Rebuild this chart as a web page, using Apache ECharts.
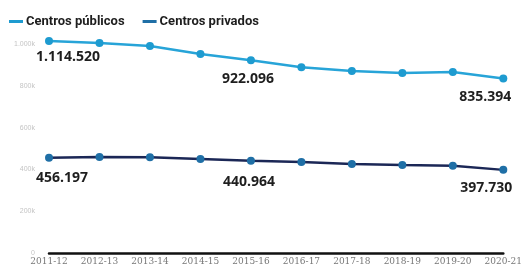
<!DOCTYPE html>
<html>
<head>
<meta charset="utf-8">
<script src="https://cdn.jsdelivr.net/npm/echarts@6/dist/echarts.min.js"></script>
<style>
  html, body { margin: 0; padding: 0; background: #fff; }
  #chart { width: 525px; height: 268px; }
</style>
</head>
<body>
<div id="chart"></div>
<script>
// school years
const years = ['2011-12', '2012-13', '2013-14', '2014-15', '2015-16', '2016-17', '2017-18', '2018-19', '2019-20', '2020-21'];

// values in thousands
const publicValues = [1014, 1005, 990, 952, 922.096, 889, 871, 861, 866, 835.394];
const privateValues = [456.197, 459, 458, 450, 440.964, 435, 426, 421, 417, 397.73];

// printed value labels (only some points carry one)
const publicLabels = ['1.114.520', '', '', '', '922.096', '', '', '', '', '835.394'];
const privateLabels = ['456.197', '', '', '', '440.964', '', '', '', '', '397.730'];

const yTickLabels = { 0: '0', 200: '200k', 400: '400k', 600: '600k', 800: '800k', 1000: '1.000k' };

// label offsets relative to the point
const publicOffsets = { 0: [19, 16], 4: [-3, 19], 9: [-18, 19] };
const privateOffsets = { 0: [13, 20], 4: [-2, 21], 9: [-17, 18] };

var chartDom = document.getElementById('chart');
var myChart = echarts.init(chartDom);

function buildData(values, labels, offsets) {
  return values.map((v, i) => {
    if (!labels[i]) return v;
    return {
      value: v,
      label: {
        show: true,
        position: 'inside',
        offset: offsets[i],
        formatter: () => labels[i],
        color: '#1e1e1e',
        fontSize: 14,
        fontWeight: 'bold',
        fontFamily: 'Open Sans, Roboto, sans-serif'
      }
    };
  });
}

var option = {
  animation: false,
  legend: {
    left: 4,
    top: 10,
    itemWidth: 14,
    itemHeight: 3,
    itemGap: 18,
    icon: 'rect',
    textStyle: {
      color: '#1e1e1e',
      fontSize: 13,
      fontWeight: 'bold',
      fontFamily: 'Liberation Sans Narrow, Roboto, sans-serif',
      padding: [0, 0, 0, -2]
    },
    data: ['Centros públicos', 'Centros privados']
  },
  grid: {
    left: 49,
    right: 20,
    top: 44,
    bottom: 15,
    containLabel: false
  },
  xAxis: {
    type: 'category',
    data: years,
    boundaryGap: false,
    axisLine: { lineStyle: { color: '#111', width: 2.5 } },
    axisTick: { show: false },
    axisLabel: {
      color: '#777',
      fontSize: 9,
      margin: 4,
      fontFamily: 'DejaVu Serif, serif'
    }
  },
  yAxis: {
    type: 'value',
    min: 0,
    max: 1000,
    interval: 200,
    splitLine: { show: false },
    axisLine: { show: false },
    axisTick: { show: false },
    axisLabel: {
      color: '#c4c4c4',
      fontSize: 7,
      margin: 14,
      formatter: (v) => yTickLabels[v]
    }
  },
  series: [
    {
      name: 'Centros públicos',
      type: 'line',
      clip: false,
      data: buildData(publicValues, publicLabels, publicOffsets),
      symbol: 'circle',
      symbolSize: 8,
      color: '#27a4d8',
      lineStyle: { color: '#27a4d8', width: 2.5 },
      itemStyle: { color: '#1e9bd0' },
      label: { show: false }
    },
    {
      name: 'Centros privados',
      type: 'line',
      clip: false,
      data: buildData(privateValues, privateLabels, privateOffsets),
      symbol: 'circle',
      symbolSize: 8,
      color: '#1b2756',
      lineStyle: { color: '#1b2756', width: 2.5 },
      itemStyle: { color: '#1f6fa6' },
      label: { show: false }
    }
  ]
};

myChart.setOption(option);
</script>
</body>
</html>
